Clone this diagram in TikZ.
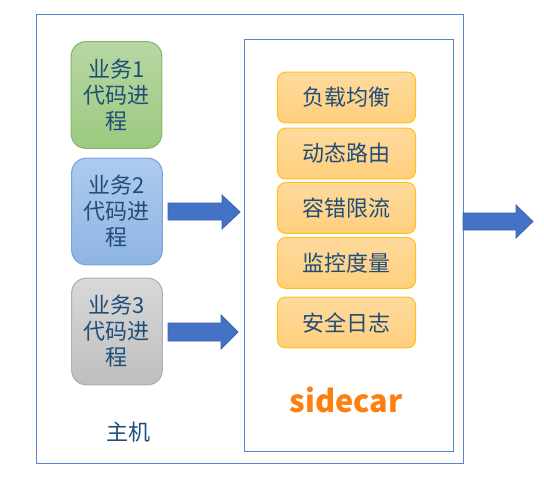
\documentclass[tikz,border=0pt]{standalone}
\usepackage{fontspec}
\setmainfont{Noto Sans CJK SC}
\newfontfamily\cjk{Noto Sans CJK SC}
\definecolor{txt}{HTML}{1F4E79}
\definecolor{frame}{HTML}{5B82CC}
\definecolor{arrowfill}{HTML}{4472C4}
\definecolor{arrowline}{HTML}{3A62AD}
\definecolor{sideorange}{HTML}{FF7F0E}
\definecolor{gA}{HTML}{B7D7A3}\definecolor{gB}{HTML}{9CC97F}\definecolor{gL}{HTML}{84B766}
\definecolor{bA}{HTML}{ADCBED}\definecolor{bB}{HTML}{8FB4E3}\definecolor{bL}{HTML}{7BA4DA}
\definecolor{hA}{HTML}{D8D8D8}\definecolor{hB}{HTML}{BFBFBF}\definecolor{hL}{HTML}{AFAFAF}
\definecolor{oA}{HTML}{FFDA9E}\definecolor{oB}{HTML}{FFCF7C}\definecolor{oL}{HTML}{FFC21A}
\tikzset{
  px/.style={x=0.75pt,y=-0.75pt},
  frm/.style={draw=frame, line width=0.9pt, inner sep=0pt, anchor=north west},
  cjktext/.style={text=txt, font=\cjk\fontsize{16.5}{19.5}\selectfont},
  proc/.style={cjktext, line width=0.8pt, rounded corners=11pt, minimum width=68pt, minimum height=80pt,
    align=center, inner sep=0pt},
  greenproc/.style={proc, draw=gL, top color=gA, bottom color=gB},
  blueproc/.style={proc, draw=bL, top color=bA, bottom color=bB},
  grayproc/.style={proc, draw=hL, top color=hA, bottom color=hB},
  func/.style={cjktext, draw=oL, line width=0.8pt, rounded corners=6pt, minimum width=103.5pt, minimum height=38pt,
    top color=oA, bottom color=oB, inner sep=0pt},
  blockarrow/.style={fill=arrowfill, draw=arrowline, line width=0.6pt, line join=miter}
}
\begin{document}
\begin{tikzpicture}[px]
\useasboundingbox (0,0) rectangle (544,480);
% host frame
\node[frm, minimum width=320.25pt, minimum height=336.75pt] (host) at (36,14) {};
\node[cjktext] (hostlabel) at (128,432) {主机};
% sidecar frame
\node[frm, minimum width=156.75pt, minimum height=309pt] (sidecar) at (244,39) {};
\node[text=sideorange, font=\cjk\bfseries\fontsize{23}{26}\selectfont] (sclabel) at (346,400) {sidecar};
% business processes
\node[greenproc] (p1) at (116.5,95) {业务1\\代码进\\程};
\node[blueproc] (p2) at (117,211.5) {业务2\\代码进\\程};
\node[grayproc] (p3) at (117,331.5) {业务3\\代码进\\程};
% sidecar functions
\node[func] (f1) at (346.5,97.5) {负载均衡};
\node[func] (f2) at (346.5,153.5) {动态路由};
\node[func] (f3) at (346.5,208) {容错限流};
\node[func] (f4) at (346.5,263) {监控度量};
\node[func] (f5) at (346.5,322.5) {安全日志};
% block arrows
\draw[blockarrow] (168,203) -- (222,203) -- (222,195) -- (240,212) -- (222,229) -- (222,220) -- (168,220) -- cycle;
\draw[blockarrow] (168,323) -- (221,323) -- (221,315) -- (238,332) -- (221,349) -- (221,341) -- (168,341) -- cycle;
\draw[blockarrow] (463,213) -- (516,213) -- (516,205) -- (533,221.5) -- (516,238) -- (516,230) -- (463,230) -- cycle;
\end{tikzpicture}
\end{document}
